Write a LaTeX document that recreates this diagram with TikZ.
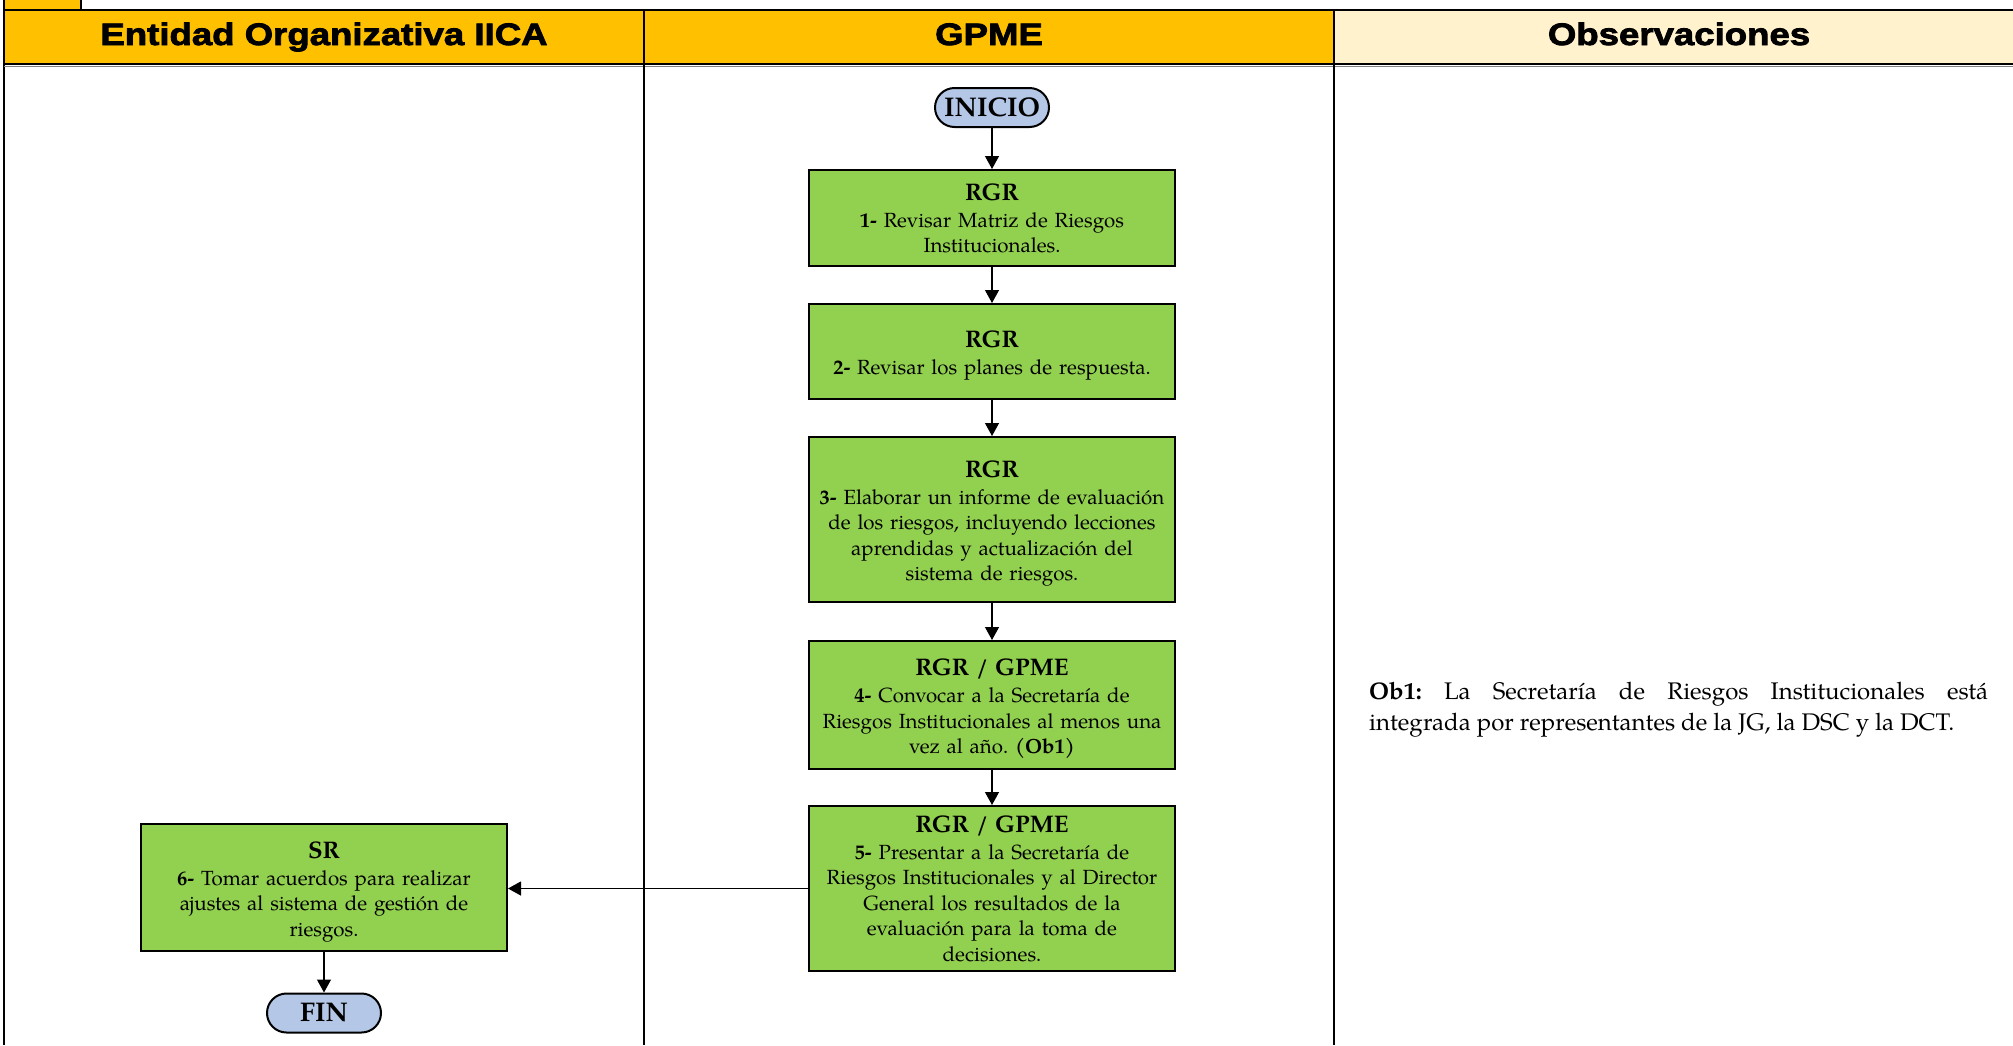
\documentclass[tikz,border=0pt]{standalone}
\usepackage{fontspec}
\setmainfont{TeX Gyre Pagella}
\newfontfamily\hdrfont[FakeStretch=1.18,FakeBold=2.6]{Liberation Sans Bold}
\usetikzlibrary{arrows.meta}
\definecolor{hdrorange}{HTML}{FFC000}
\definecolor{hdrcream}{HTML}{FFF2CC}
\definecolor{boxgreen}{HTML}{92D050}
\definecolor{termblue}{HTML}{B4C7E7}
\frenchspacing
\newcommand{\ttl}[2][25pt]{{\fontsize{24}{27}\selectfont\bfseries\rule{0pt}{#1}#2}}
\tikzset{
  frame/.style={draw=black, line width=2.6pt},
  hdr/.style={anchor=base, inner sep=0pt, font=\hdrfont\fontsize{31}{34}\selectfont},
  stepbox/.style={draw=black, line width=2pt, fill=boxgreen, minimum width=366pt,
    text width=358pt, align=center, inner sep=0pt, font=\fontsize{20.5}{25.5}\selectfont\frenchspacing},
  term/.style={draw=black, line width=2pt, fill=termblue, rounded corners=19.5pt,
    minimum width=114pt, minimum height=39pt, inner sep=0pt,
    font=\fontsize{27}{30}\selectfont\bfseries},
  flow/.style={line width=1.2pt, -{Triangle[width=14pt,length=13pt]}},
  obs/.style={anchor=west, inner sep=0pt, text width=619pt, align=justify,
    font=\fontsize{24}{30.8}\selectfont\frenchspacing}
}
\begin{document}
\begin{tikzpicture}[x=1pt,y=-1pt]
\useasboundingbox (0,0) rectangle (2013,1045);
\fill[white] (0,0) rectangle (2013,1045);
% header fills
\fill[hdrorange] (4,10) rectangle (1334,64);
\fill[hdrcream] (1334,10) rectangle (2013,64);
\fill[hdrorange] (4,0) rectangle (81,10);
% frame lines
\draw[frame] (81,0) -- (81,10);
\draw[frame] (4,0) -- (4,1045);
\draw[frame] (4,10) -- (2013,10);
\draw[frame] (4,64) -- (2013,64);
\draw[draw=gray, line width=1pt] (4,66.5) -- (2013,66.5);
\draw[frame] (644,10) -- (644,1045);
\draw[frame] (1334,10) -- (1334,1045);
% header texts
\node[hdr] (h1) at (324,45) {Entidad Organizativa IICA};
\node[hdr] (h2) at (989,45) {GPME};
\node[hdr] (h3) at (1679,45) {Observaciones};
% flow nodes
\node[term] (inicio) at (992,107.5) {INICIO};
\node[stepbox, minimum height=96pt] (s1) at (992,218)
  {\ttl[17pt]{RGR}\\[1.5pt]\textbf{1-} Revisar Matriz de Riesgos\\Institucionales.};
\node[stepbox, minimum height=95pt] (s2) at (992,351.5)
  {\ttl{RGR}\\[1.5pt]\textbf{2-} Revisar los planes de respuesta.};
\node[stepbox, minimum height=165pt] (s3) at (992,519.5)
  {\ttl{RGR}\\[1.5pt]\textbf{3-} Elaborar un informe de evaluación\\de los riesgos, incluyendo lecciones\\aprendidas y actualización del\\sistema de riesgos.};
\node[stepbox, minimum height=128pt] (s4) at (992,705)
  {\ttl{RGR / GPME}\\[1.5pt]\textbf{4-} Convocar a la Secretaría de\\Riesgos Institucionales al menos una\\vez al año. \textbf{(Ob1)}};
\node[stepbox, minimum height=165pt] (s5) at (992,888.5)
  {\ttl[17pt]{RGR / GPME}\\[1.5pt]\textbf{5-} Presentar a la Secretaría de\\Riesgos Institucionales y al Director\\General los resultados de la\\evaluación para la toma de\\decisiones.};
\node[stepbox, minimum height=127pt] (s6) at (324,887.5)
  {\ttl{SR}\\[1.5pt]\textbf{6-} Tomar acuerdos para realizar\\ajustes al sistema de gestión de\\riesgos.};
\node[term] (fin) at (324,1013) {FIN};
% connectors
\draw[flow] (inicio) -- (s1);
\draw[flow] (s1) -- (s2);
\draw[flow] (s2) -- (s3);
\draw[flow] (s3) -- (s4);
\draw[flow] (s4) -- (s5);
\draw[flow] (s5.west) -- (s5.west -| s6.east);
\draw[flow] (s6) -- (fin);
% observation
\node[obs] (ob1) at (1369,710)
  {\textbf{Ob1:} La Secretaría de Riesgos Institucionales está\linebreak integrada por representantes de la JG, la DSC y la DCT.};
\end{tikzpicture}
\end{document}
